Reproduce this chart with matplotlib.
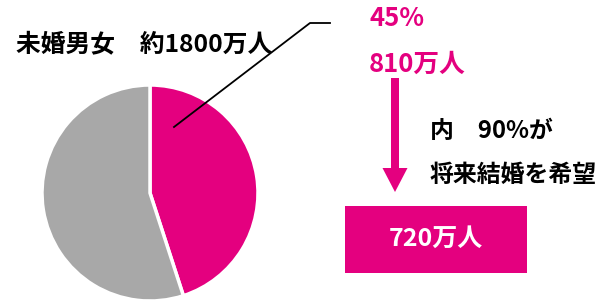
import matplotlib.pyplot as plt
from matplotlib.patches import Rectangle, FancyArrow

plt.rcParams["font.family"] = ["Noto Sans CJK JP", "DejaVu Sans"]

# data
shares = [45, 55]
share_colors = ["#E4007F", "#A8A8A8"]
title_text = "未婚男女\u3000約1800万人"
pct_text = "45%"
count_text = "810万人"
note_lines = ["内\u300090%が", "将来結婚を希望"]
result_text = "720万人"

PINK = "#E4007F"
W, H = 614, 300


def py(y):
    """пиксели сверху -> координаты осей"""
    return H - y


fig = plt.figure(figsize=(6.14, 3.0), dpi=100)
ax = fig.add_axes([0, 0, 1, 1])
ax.set_xlim(0, W)
ax.set_ylim(0, H)
ax.set_aspect("equal")
ax.axis("off")

ax.pie(
    shares,
    colors=share_colors,
    startangle=90,
    counterclock=False,
    center=(150, py(193)),
    radius=108,
    wedgeprops=dict(edgecolor="white", linewidth=2.5),
)
ax.set_xlim(0, W)
ax.set_ylim(0, H)

ax.text(16, py(44), title_text, fontsize=17.8, fontweight="bold",
        color="black", va="center", ha="left")

# leader line
ax.plot([174, 310, 330], [py(127), py(23), py(23)], color="black", lw=1.3)

ax.text(369, py(18), pct_text, fontsize=18.5, fontweight="bold",
        color=PINK, va="center", ha="left")
ax.text(369, py(64), count_text, fontsize=18.5, fontweight="bold",
        color=PINK, va="center", ha="left")

arrow = FancyArrow(395, py(78), 0, -(192 - 78), width=8, head_width=25,
                   head_length=24, length_includes_head=True,
                   color=PINK, lw=0)
ax.add_patch(arrow)

ax.text(430, py(131), note_lines[0], fontsize=17.2, fontweight="bold",
        color="black", va="center", ha="left")
ax.text(430, py(175), note_lines[1], fontsize=17.2, fontweight="bold",
        color="black", va="center", ha="left")

ax.add_patch(Rectangle((345, py(273)), 182, 67, color=PINK, lw=0))
ax.text(436, py(239), result_text, fontsize=18, fontweight="bold",
        color="white", va="center", ha="center")

fig.savefig("out.png", dpi=100)
